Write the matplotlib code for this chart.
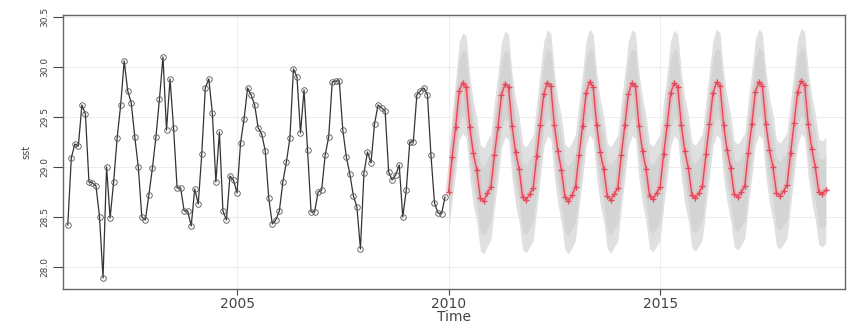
import numpy as np
import matplotlib
matplotlib.use('Agg')
import matplotlib.pyplot as plt

# observed monthly series, Jan 2001 - Dec 2009
sst_obs = [
    28.42, 29.09, 29.23, 29.21, 29.62, 29.53, 28.85, 28.84, 28.81, 28.50, 27.89, 29.00,
    28.49, 28.85, 29.29, 29.62, 30.06, 29.76, 29.64, 29.30, 29.00, 28.50, 28.47, 28.72,
    28.99, 29.30, 29.68, 30.10, 29.37, 29.88, 29.39, 28.79, 28.79, 28.56, 28.56, 28.41,
    28.78, 28.63, 29.13, 29.79, 29.88, 29.54, 28.85, 29.35, 28.56, 28.47, 28.91, 28.87,
    28.74, 29.24, 29.48, 29.79, 29.72, 29.62, 29.39, 29.33, 29.16, 28.69, 28.43, 28.47,
    28.56, 28.85, 29.05, 29.29, 29.98, 29.90, 29.34, 29.77, 29.17, 28.55, 28.55, 28.75,
    28.77, 29.12, 29.30, 29.85, 29.86, 29.86, 29.37, 29.10, 28.93, 28.71, 28.60, 28.18,
    28.94, 29.15, 29.04, 29.43, 29.62, 29.59, 29.56, 28.95, 28.87, 28.92, 29.02, 28.50,
    28.77, 29.25, 29.25, 29.72, 29.76, 29.79, 29.72, 29.12, 28.64, 28.54, 28.53, 28.70,
]

# point forecast, Jan 2010 - Dec 2018
sst_fc = [
    28.75, 29.10, 29.40, 29.76, 29.84, 29.80, 29.40, 29.14, 28.97, 28.69, 28.66, 28.74,
    28.80, 29.12, 29.40, 29.72, 29.83, 29.80, 29.41, 29.15, 28.98, 28.70, 28.67, 28.73,
    28.79, 29.11, 29.42, 29.73, 29.84, 29.81, 29.42, 29.16, 28.97, 28.70, 28.66, 28.72,
    28.80, 29.12, 29.41, 29.74, 29.85, 29.80, 29.42, 29.15, 28.98, 28.71, 28.67, 28.73,
    28.79, 29.12, 29.42, 29.73, 29.84, 29.81, 29.41, 29.16, 28.98, 28.71, 28.68, 28.74,
    28.80, 29.13, 29.42, 29.74, 29.84, 29.80, 29.42, 29.16, 28.99, 28.72, 28.69, 28.74,
    28.81, 29.13, 29.43, 29.74, 29.85, 29.81, 29.42, 29.17, 28.99, 28.73, 28.70, 28.75,
    28.81, 29.14, 29.43, 29.75, 29.85, 29.81, 29.43, 29.17, 29.00, 28.74, 28.71, 28.76,
    28.82, 29.14, 29.44, 29.75, 29.86, 29.82, 29.43, 29.18, 29.00, 28.75, 28.73, 28.77,
]

# forecast standard error by horizon
se_fc = [0.20, 0.22, 0.24, 0.25, 0.255, 0.26, 0.26, 0.265, 0.265, 0.27, 0.27, 0.27] + [0.27] * 96

t_obs = 2001 + np.arange(len(sst_obs)) / 12
t_fc = 2010 + np.arange(len(sst_fc)) / 12
fc = np.array(sst_fc)
se = np.array(se_fc)

fig = plt.figure(figsize=(8.48, 3.29), dpi=100)
ax = fig.add_axes([0.0743, 0.1216, 0.9222, 0.8330])

# grid
for yv in [28.0, 28.5, 29.0, 29.5, 30.0, 30.5]:
    ax.axhline(yv, color='#ededed', lw=0.7, zorder=0)
for xv in [2005, 2010, 2015]:
    ax.axvline(xv, color='#ededed', lw=0.7, zorder=0)

# prediction intervals
ax.fill_between(t_fc, fc - 1.96 * se, fc + 1.96 * se, color='#e0e0e0', lw=0, zorder=1)
ax.fill_between(t_fc, fc - 1.28 * se, fc + 1.28 * se, color='#d3d5d5', lw=0, zorder=2)

# observed
ax.plot(t_obs, sst_obs, color='#333333', lw=0.9, marker='o', ms=4, mfc='none',
        mec='#555555', mew=0.6, zorder=4)

# forecast
ax.plot(t_fc, fc, color='#f29aa0', lw=4, alpha=0.45, zorder=3)
ax.plot(t_fc, fc, color='#e4485a', lw=1.0, marker='+', ms=4.5, mew=0.9, zorder=5)

ax.set_xlim(2000.887, 2019.37)
ax.set_ylim(27.78, 30.52)
ax.set_xticks([2005, 2010, 2015])
ax.set_yticks([28.0, 28.5, 29.0, 29.5, 30.0, 30.5])
ax.set_yticklabels(['28.0', '28.5', '29.0', '29.5', '30.0', '30.5'], rotation=90, va='center')
ax.tick_params(axis='x', labelsize=10, colors='#444444', length=4, pad=2)
ax.tick_params(axis='y', labelsize=6.5, colors='#444444', length=7, pad=3)
for s in ax.spines.values():
    s.set_color('#666666')
    s.set_linewidth(1.0)

ax.set_xlabel('Time', fontsize=10, color='#444444', labelpad=-1)
ax.set_ylabel('sst', fontsize=7, color='#444444', labelpad=6)

fig.savefig('out.png', dpi=100)
